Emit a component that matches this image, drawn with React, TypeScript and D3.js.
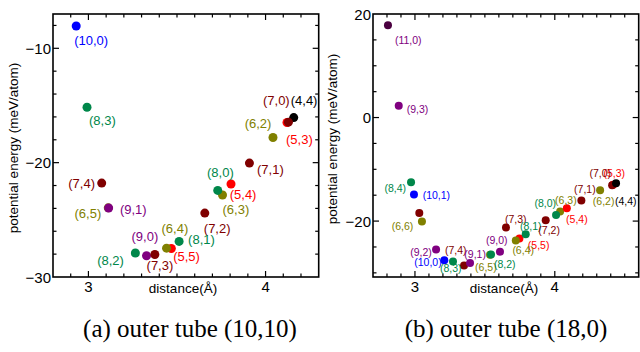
import React from 'react';
import * as d3 from 'd3';

// ---------- Panel (a): outer tube (10,10) ----------
const labelsA = ['(10,0)', '(8,3)', '(4,4)', '(5,3)', '(7,0)', '(6,2)', '(7,1)', '(7,4)', '(6,3)', '(8,0)', '(5,4)', '(6,5)', '(9,1)', '(7,2)', '(8,1)', '(5,5)', '(6,4)', '(8,2)', '(9,0)', '(7,3)'];
const distA = [2.931, 2.992, 4.159, 4.121, 4.129, 4.042, 3.909, 3.075, 3.757, 3.730, 3.805, 3.112, 3.114, 3.657, 3.512, 3.468, 3.441, 3.265, 3.328, 3.375];
const energyA = [-8.05, -15.15, -16.06, -16.49, -16.46, -17.80, -20.04, -21.79, -22.83, -22.43, -21.87, -23.95, -23.97, -24.41, -26.89, -27.51, -27.48, -27.90, -28.14, -28.03];
const colorsA = ['blue', 'green', 'black', 'red', 'darkred', 'olive', 'darkred', 'darkred', 'olive', 'green', 'red', 'olive', 'purple', 'darkred', 'green', 'red', 'olive', 'green', 'purple', 'darkred'];

const xTicksA = [3, 4];
const yTicksA = [-10, -20, -30];

// ---------- Panel (b): outer tube (18,0) ----------
const labelsB = ['(11,0)', '(9,3)', '(8,4)', '(10,1)', '', '(6,6)', '(9,2)', '(10,0)', '(8,3)', '(7,4)', '(9,1)', '(6,5)', '(8,2)', '(9,0)', '(7,3)', '(5,5)', '(6,4)', '(8,1)', '(7,2)', '(6,3)', '(8,0)', '(5,4)', '(7,1)', '(6,2)', '(5,3)', '(7,0)', '(4,4)'];
const distB = [2.807, 2.884, 2.972, 2.993, 3.031, 3.050, 3.151, 3.210, 3.272, 3.351, 3.394, 3.537, 3.544, 3.608, 3.651, 3.747, 3.721, 3.792, 3.935, 4.038, 4.009, 4.086, 4.190, 4.324, 4.417, 4.410, 4.438];
const energyB = [17.81, 2.27, -12.49, -14.87, -18.43, -20.09, -25.50, -27.57, -27.82, -28.60, -28.09, -26.51, -26.47, -25.93, -21.25, -23.38, -23.76, -22.55, -19.84, -18.16, -18.81, -17.52, -16.03, -14.04, -12.97, -13.07, -12.68];
const colorsB = ['darkpurple', 'purple', 'green', 'blue', 'darkred', 'olive', 'purple', 'blue', 'green', 'darkred', 'purple', 'olive', 'green', 'purple', 'darkred', 'red', 'olive', 'green', 'darkred', 'olive', 'green', 'red', 'darkred', 'olive', 'red', 'darkred', 'black'];

const xTicksB = [3, 4];
const yTicksB = [20, 0, -20];

const palette: Record<string, string> = {
  blue: '#0000ff',
  green: '#00874a',
  black: '#000000',
  red: '#ff0000',
  darkred: '#800000',
  olive: '#808000',
  purple: '#800080',
  darkpurple: '#4b0040',
};
const labelPalette: Record<string, string> = { ...palette, darkpurple: '#800080' };

// label layout (pixel offsets from the dot, anchor)
type LL = [number, number, 'start' | 'end'];
const layoutA: LL[] = [
  [-2, 14, 'start'], [2, 13, 'start'], [-3, -17, 'start'], [-1, 17, 'start'], [1.3, -21.6, 'end'],
  [-1.6, -14.4, 'end'], [7.6, 6, 'start'], [-6.7, 0.7, 'end'], [0, 14.7, 'start'], [-10.7, -18, 'start'],
  [-1.3, 10.7, 'start'], [-7, 5.7, 'end'], [11.3, 1.7, 'start'], [-1, 15.7, 'start'], [9, -1.7, 'start'],
  [1.8, 7.9, 'start'], [-5, -19.2, 'start'], [-11.5, 7.4, 'end'], [-15, -19.3, 'start'], [-8.3, 11.2, 'start'],
];
const layoutB: LL[] = [
  [7, 14.7, 'start'], [8, 3.3, 'start'], [-5, 5.3, 'end'], [8.7, 0.7, 'start'], [0, 0, 'start'],
  [-8.7, 4.4, 'end'], [-4.3, 2, 'end'], [-2.6, 2, 'end'], [-13, 6, 'start'], [-19, -16, 'start'],
  [-5.7, -9.4, 'start'], [-15, 12.2, 'start'], [3, 9.7, 'start'], [-14, -12.2, 'start'], [-1, -8.6, 'start'],
  [8.4, 6.7, 'start'], [-3.4, 9.7, 'start'], [-5.7, -8, 'start'], [-7.4, 10, 'start'], [-5, -11.3, 'start'],
  [0, -12, 'end'], [-0.7, 10.7, 'start'], [-7.3, -11.3, 'start'], [-7.3, 10.7, 'start'], [-9.7, -11.8, 'start'],
  [-22.7, -12.3, 'start'], [-1, 17.7, 'start'],
];

const SANS = 'Arial, "Liberation Sans", Helvetica, sans-serif';

interface PanelProps {
  left: number; right: number; top: number; bottom: number;
  xDomain: [number, number]; yDomain: [number, number];
  xMajor: number[]; xMinorStep: number;
  yMajor: number[]; yMinorStep: number;
  labels: string[]; xs: number[]; ys: number[]; colors: string[]; layout: LL[];
  r: number; labelSize: number; yTitleX: number; yTitleY: number; xTitleX: number;
}

function range(a: number, b: number, step: number) {
  const out: number[] = [];
  const n = Math.round((b - a) / step);
  for (let i = 0; i <= n; i++) out.push(+(a + i * step).toFixed(6));
  return out;
}

function Panel(p: PanelProps) {
  const x = d3.scaleLinear().domain(p.xDomain).range([p.left, p.right]);
  const y = d3.scaleLinear().domain(p.yDomain).range([p.bottom, p.top]);
  const xMin = range(Math.ceil(p.xDomain[0] / p.xMinorStep) * p.xMinorStep, p.xDomain[1], p.xMinorStep)
    .filter(v => v > p.xDomain[0] + 1e-6 && v < p.xDomain[1] - 1e-6);
  const yMin = range(Math.ceil(p.yDomain[0] / p.yMinorStep) * p.yMinorStep, p.yDomain[1], p.yMinorStep)
    .filter(v => v > p.yDomain[0] + 1e-6 && v < p.yDomain[1] - 1e-6);
  const isXMaj = (v: number) => p.xMajor.some(m => Math.abs(m - v) < 1e-6);
  const isYMaj = (v: number) => p.yMajor.some(m => Math.abs(m - v) < 1e-6);
  const MJ = 6, MN = 3.5;
  const fmt = (v: number) => (v < 0 ? '\u2212' + Math.abs(v) : String(v));
  return (
    <g>
      <rect x={p.left} y={p.top} width={p.right - p.left} height={p.bottom - p.top} fill="none" stroke="#000" strokeWidth={1.6} />
      {xMin.map((v, i) => {
        const L = isXMaj(v) ? MJ : MN;
        const xx = x(v);
        return (
          <g key={'xt' + i}>
            <line x1={xx} x2={xx} y1={p.bottom} y2={p.bottom - L} stroke="#000" strokeWidth={1.2} />
            <line x1={xx} x2={xx} y1={p.top} y2={p.top + L} stroke="#000" strokeWidth={1.2} />
          </g>
        );
      })}
      {yMin.map((v, i) => {
        const L = isYMaj(v) ? MJ : MN;
        const yy = y(v);
        return (
          <g key={'yt' + i}>
            <line x1={p.left} x2={p.left + L} y1={yy} y2={yy} stroke="#000" strokeWidth={1.2} />
            <line x1={p.right} x2={p.right - L} y1={yy} y2={yy} stroke="#000" strokeWidth={1.2} />
          </g>
        );
      })}
      {p.xMajor.map(v => (
        <text key={'xl' + v} x={x(v)} y={p.bottom + 15} textAnchor="middle" fontFamily={SANS} fontSize={15}>{fmt(v)}</text>
      ))}
      {p.yMajor.map(v => (
        <text key={'yl' + v} x={p.left - 2} y={y(v) + 5.5} textAnchor="end" fontFamily={SANS} fontSize={15}>{fmt(v)}</text>
      ))}
      <text x={p.xTitleX} y={p.bottom + 16} textAnchor="middle" fontFamily={SANS} fontSize={13.5}>distance(Å)</text>
      <text transform={`translate(${p.yTitleX},${p.yTitleY}) rotate(-90)`} textAnchor="middle" dominantBaseline="central" fontFamily={SANS} fontSize={13.5}>potential energy (meV/atom)</text>
      {p.xs.map((v, i) => (
        <circle key={'c' + i} cx={x(v)} cy={y(p.ys[i])} r={p.r} fill={palette[p.colors[i]]} />
      ))}
      {p.xs.map((v, i) => {
        const [dx, dy, anchor] = p.layout[i];
        if (!p.labels[i]) return null;
        return (
          <text key={'t' + i} x={x(v) + dx} y={y(p.ys[i]) + dy} textAnchor={anchor} dominantBaseline="central"
            fontFamily={SANS} fontSize={p.labelSize} fill={labelPalette[p.colors[i]]}>{p.labels[i]}</text>
        );
      })}
    </g>
  );
}

export default function App() {
  return (
    <svg width={640} height={352} viewBox="0 0 640 352" style={{ position: 'absolute', left: 0, top: 0, background: '#fff' }}>
      <rect x={0} y={0} width={640} height={352} fill="#fff" />
      <Panel left={53} right={318.7} top={14} bottom={277}
        xDomain={[2.8, 4.3]} yDomain={[-30, -7]} xMajor={xTicksA} xMinorStep={0.1} yMajor={yTicksA} yMinorStep={2}
        labels={labelsA} xs={distA} ys={energyA} colors={colorsA} layout={layoutA}
        r={4.5} labelSize={13} yTitleX={13} yTitleY={148} xTitleX={183} />
      <Panel left={373} right={638.7} top={14} bottom={277}
        xDomain={[2.7, 4.6]} yDomain={[-30.8, 20]} xMajor={xTicksB} xMinorStep={0.1} yMajor={yTicksB} yMinorStep={5}
        labels={labelsB} xs={distB} ys={energyB} colors={colorsB} layout={layoutB}
        r={4} labelSize={10.5} yTitleX={332} yTitleY={139} xTitleX={504} />
      <text x={190} y={337} textAnchor="middle" fontFamily='"Liberation Serif", "Times New Roman", serif' fontSize={25}>(a) outer tube (10,10)</text>
      <text x={506} y={337} textAnchor="middle" fontFamily='"Liberation Serif", "Times New Roman", serif' fontSize={25}>(b) outer tube (18,0)</text>
    </svg>
  );
}
